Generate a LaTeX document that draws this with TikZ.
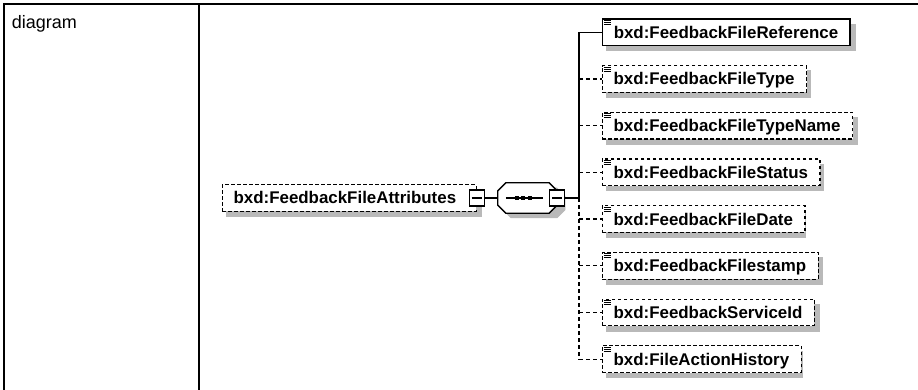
\documentclass[tikz,border=0pt]{standalone}
\usepackage{fontspec}
\setmainfont{Liberation Sans}
\usetikzlibrary{calc}
\definecolor{shadowgray}{RGB}{185,185,185}
\newcommand\bxdfont{\fontsize{16.9pt}{20pt}\selectfont\bfseries}
\begin{document}
\begin{tikzpicture}[x=1pt,y=-1pt,
  frame/.style={line width=2pt},
  conn/.style={line width=1.3pt},
  optconn/.style={line width=1.3pt,dash pattern=on 4pt off 3pt},
  elembox/.style={draw,fill=white,line width=1.5pt,anchor=west,inner xsep=0pt,inner ysep=6.85pt,
    text height=12.5pt,text depth=0.5pt,font=\bxdfont},
  optbox/.style={elembox,line width=1.2pt,dash pattern=on 3.5pt off 2.5pt},
  minusbox/.style={draw,fill=white,line width=1.1pt,minimum width=15pt,minimum height=16pt,inner sep=0pt},
  iconline/.style={line width=1pt},
  shadowfill/.style={fill=shadowgray,draw=shadowgray,line width=0.5pt},
]
\useasboundingbox (0,0) rectangle (918,390);
% table frame
\draw[frame] (4.3,390) -- (4.3,4.3) -- (918,4.3);
\draw[frame] (198.7,4.3) -- (198.7,390);
\node[anchor=base west,inner sep=0pt,font=\fontsize{18pt}{21pt}\selectfont] (lbl) at (11.7,28.3) {diagram};

% shadows drawn first, at the box extents shifted 5px right and down
\path[shadowfill] (226.7,189.1) rectangle (481.3,216.7);
\foreach \y/\r in {32.3/850.0,79.0/805.6,125.7/852.2,172.4/818.4,219.1/800.2,265.8/817.3,312.5/813.8,359.2/797.2}
  \path[shadowfill] (606.7,\y-8.35) rectangle (\r+5,\y+18.35);
\path[shadowfill] (511,188) -- (557,188) -- (565,196) -- (565,210) -- (557,218) -- (511,218) -- (503,210) -- (503,196) -- cycle;

% root element
\node[optbox] (attr) at (221.7,198) {\hspace{11.3pt}bxd:FeedbackFileAttributes\hspace{20pt}\mbox{}};

% children
\node[elembox] (c1) at (601.7,32.3) {\hspace{11.3pt}bxd:FeedbackFileReference\hspace{12pt}\mbox{}};
\node[optbox]  (c2) at (601.7,79.0) {\hspace{11.3pt}bxd:FeedbackFileType\hspace{12pt}\mbox{}};
\node[optbox]  (c3) at (601.7,125.7) {\hspace{11.3pt}bxd:FeedbackFileTypeName\hspace{12pt}\mbox{}};
\node[optbox]  (c4) at (601.7,172.4) {\hspace{11.3pt}bxd:FeedbackFileStatus\hspace{12pt}\mbox{}};
\node[optbox]  (c5) at (601.7,219.1) {\hspace{11.3pt}bxd:FeedbackFileDate\hspace{12pt}\mbox{}};
\node[optbox]  (c6) at (601.7,265.8) {\hspace{11.3pt}bxd:FeedbackFilestamp\hspace{12pt}\mbox{}};
\node[optbox]  (c7) at (601.7,312.5) {\hspace{11.3pt}bxd:FeedbackServiceId\hspace{12pt}\mbox{}};
\node[optbox]  (c8) at (601.7,359.2) {\hspace{11.3pt}bxd:FileActionHistory\hspace{12pt}\mbox{}};
\foreach \n in {c1,c2,c3,c4,c5,c6,c7,c8}
  \foreach \dy in {2,4,6}
    \draw[iconline] ([shift={(2.2,\dy)}]\n.north west) -- ++(7,0);

\node[minusbox] (m1) at (attr.east) {};
\draw[line width=1.1pt] ([xshift=3pt]m1.west) -- ([xshift=-3pt]m1.east);

% sequence compositor
\node[minimum width=59pt,minimum height=30pt,inner sep=0pt] (seq) at (527.5,198) {};
\draw[conn,fill=white] ($(seq.north west)+(8,0)$) -- ($(seq.north east)+(-8,0)$) -- ($(seq.north east)+(0,8)$)
  -- ($(seq.south east)+(0,-8)$) -- ($(seq.south east)+(-8,0)$) -- ($(seq.south west)+(8,0)$)
  -- ($(seq.south west)+(0,-8)$) -- ($(seq.north west)+(0,8)$) -- cycle;
\draw[conn] ([xshift=8pt]seq.west) -- ([xshift=-14pt]seq.east);
\foreach \dx in {-10.8,-4.2,2.5}
  \fill ([xshift=\dx pt]seq.center) ++(-2,-2) rectangle ++(4,4);
\node[minusbox] (m2) at (seq.east) {};
\draw[line width=1.1pt] ([xshift=3pt]m2.west) -- ([xshift=-3pt]m2.east);
\draw[conn] (m1.east) -- (seq.west);

% bus
\coordinate (bj) at (579,198);
\draw[conn] (m2.east) -- (bj);
\draw[conn] (bj) -- (bj |- c1.west) -- (c1.west);
\draw[optconn] (bj) -- (bj |- c8.west);
\foreach \n in {c2,c3,c4,c5,c6,c7,c8}
  \draw[optconn] (bj |- \n.west) -- (\n.west);
\end{tikzpicture}
\end{document}
